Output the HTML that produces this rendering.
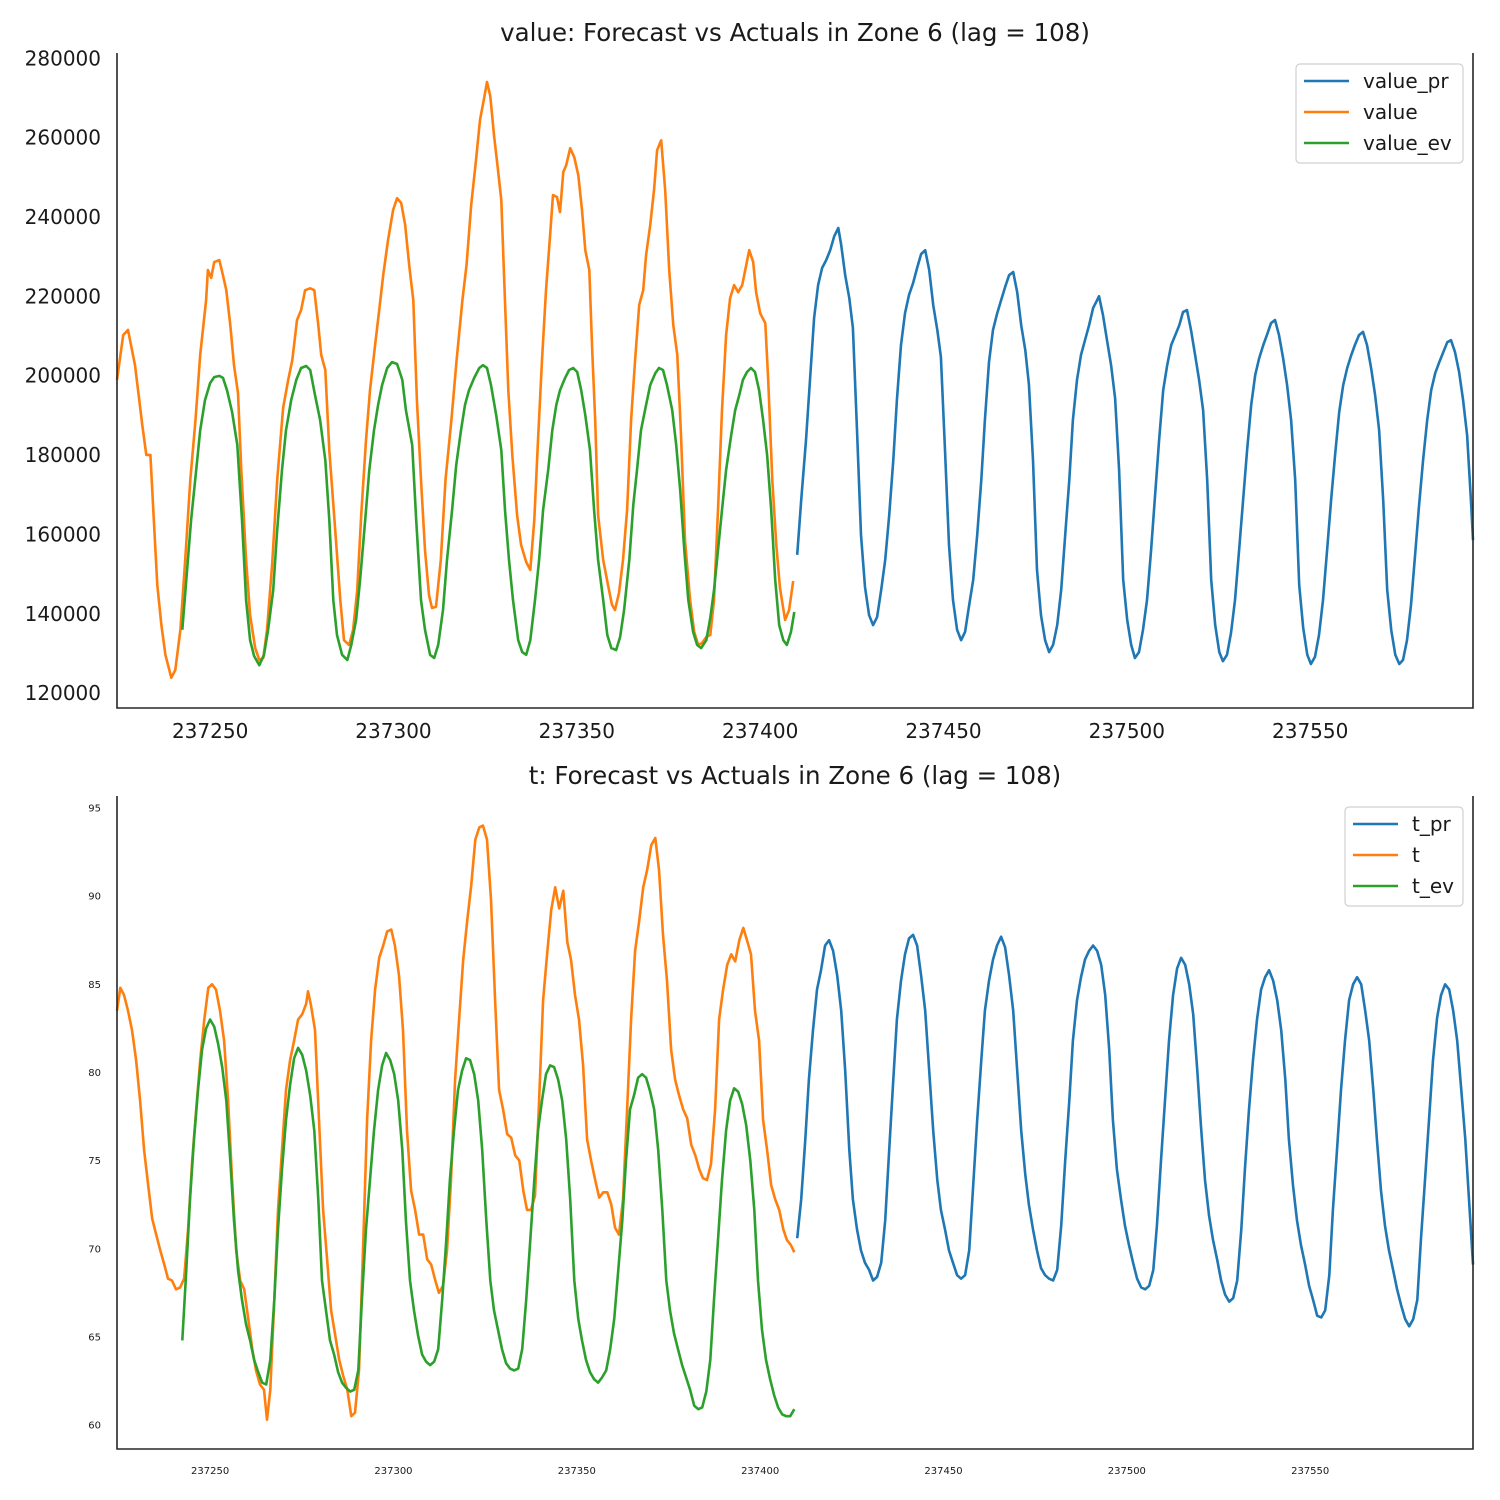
<!DOCTYPE html>
<html><head><meta charset="utf-8"><style>
html,body{margin:0;padding:0;background:#fff;}
svg{display:block;font-family:"DejaVu Sans","Liberation Sans",sans-serif;}
</style></head><body>
<svg id="chart" width="1500" height="1500" viewBox="0 0 1500 1500" xmlns="http://www.w3.org/2000/svg">
<rect width="1500" height="1500" fill="#fff"/>
<g id="top"></g>
<g id="bot"></g>
</svg>
<script>
const X0 = 237000;
const xTicks = [250, 300, 350, 400, 450, 500, 550];
const xTickLabels = ["237250","237300","237350","237400","237450","237500","237550"];
const valueTicks = [120,140,160,180,200,220,240,260,280];
const valueTickLabels = ["120000","140000","160000","180000","200000","220000","240000","260000","280000"];
const tTicks = [60,65,70,75,80,85,90,95];
const tTickLabels = ["60","65","70","75","80","85","90","95"];

// value (thousands) series: [x offset from 237000, value/1000]
const valuePr = [[410.1,154.8],[411.2,168.6],[412.5,183.7],[413.6,198.9],[414.7,214.5],[415.8,222.8],[416.9,227.1],[418,229.1],[419.1,231.6],[420.2,235.1],[421.3,237.2],[422.1,232.9],[423.2,225.3],[424.3,219.5],[425.3,212],[426.4,186.3],[427.5,159.8],[428.6,146.7],[429.7,139.6],[430.8,137.1],[431.9,139.1],[433,146],[434.1,153.5],[435.2,164.8],[436.3,178.7],[437.3,193.8],[438.4,207.7],[439.5,215.7],[440.6,220.3],[441.7,223.3],[442.8,227.1],[443.9,230.6],[445,231.6],[446.1,226.6],[447.2,217.8],[448.3,211.5],[449.3,204.7],[450.4,181.2],[451.5,157.3],[452.6,143.4],[453.7,135.9],[454.8,133.3],[455.9,135.4],[457,142.2],[458.1,148.5],[459.2,159.8],[460.3,173.7],[461.3,188.8],[462.4,203.4],[463.5,211.5],[464.6,215.5],[465.7,219],[466.8,222.3],[467.9,225.3],[469,226.1],[470.1,221],[471.2,212.7],[472.3,206.4],[473.3,197.8],[474.4,178.7],[475.5,151],[476.6,139.6],[477.7,133.3],[478.8,130.3],[479.9,132.1],[481,137.1],[482.1,146],[483.2,159.8],[484.3,173.7],[485.3,188.8],[486.4,198.9],[487.5,205.2],[488.6,208.9],[489.7,212.7],[490.8,217],[491.9,219],[492.4,220],[493.5,215.2],[494.6,208.9],[495.7,202.6],[496.8,194.3],[497.9,176.2],[499,148.5],[500.1,138.4],[501.2,132.1],[502.2,128.8],[503.3,130.3],[504.4,135.9],[505.5,143.4],[506.6,156],[507.7,169.9],[508.8,183.7],[509.9,196.3],[511,202.6],[512.1,207.7],[513.2,210.2],[514.3,212.7],[515.3,216],[516.4,216.5],[517.5,211.5],[518.6,205.2],[519.7,198.9],[520.8,191.3],[521.9,173.7],[523,148.5],[524.1,137.1],[525.2,130.3],[526.2,128],[527.3,129.6],[528.4,135.1],[529.5,143.4],[530.6,156],[531.7,168.6],[532.8,181.2],[533.9,192.6],[535,200.1],[536.1,204.4],[537.2,207.7],[538.2,210.2],[539.3,213.2],[540.4,214],[541.5,210.2],[542.6,204.4],[543.7,197.6],[544.8,188.8],[545.9,173.7],[547,147.2],[548.1,136.4],[549.2,129.6],[550.2,127.3],[551.3,129.1],[552.4,134.6],[553.5,143.4],[554.6,156],[555.7,168.6],[556.8,180],[557.9,190.8],[559,197.6],[560.1,201.9],[561.2,205.2],[562.2,207.7],[563.3,210.2],[564.4,211],[565.5,207.7],[566.6,201.9],[567.7,195.1],[568.8,186.3],[569.9,168.6],[571,146],[572.1,135.9],[573.2,129.6],[574.3,127.3],[575.3,128.3],[576.4,133.3],[577.5,142.2],[578.6,154.8],[579.7,167.4],[580.8,178.7],[581.9,188.8],[583,196.3],[584.1,200.6],[585.2,203.4],[586.3,205.9],[587.4,208.4],[588.4,208.9],[589.5,205.9],[590.6,200.9],[591.7,193.8],[592.8,185],[593.9,167.4],[594.4,158.5]];
const valueAct = [[224.6,198.9],[226.3,210.2],[227.6,211.5],[229.5,202.6],[231.5,187.5],[232.6,180],[233.7,180],[234.5,166.1],[235.6,147.2],[236.7,137.1],[237.8,129.6],[239.4,123.8],[240.5,125.8],[241.9,135.9],[243.2,153.5],[244.6,173.7],[246,188.8],[247.3,205.2],[248.9,219],[249.4,226.6],[250.3,224.6],[251.1,228.6],[252.5,229.1],[253.3,226.1],[254.4,221.5],[255.5,212.7],[256.5,202.6],[257.6,195.6],[258.5,176.2],[259.8,153.5],[260.9,139.6],[262.3,131.3],[263.4,128.3],[264.5,128.8],[265.5,135.9],[266.9,152.2],[268.3,173.7],[269.9,191.8],[271.3,198.9],[272.4,203.9],[273.7,214],[274.8,216.5],[275.9,221.5],[277.3,222],[278.4,221.5],[279.5,212.7],[280.3,205.2],[281.4,201.4],[282.5,181.2],[284.1,161.1],[285.5,143.4],[286.5,133.3],[287.9,132.1],[289,135.9],[290.1,145.9],[291.2,164.8],[292.5,183.7],[293.6,196.3],[295,207.7],[296.1,216.5],[297.2,225.3],[298.5,234.1],[299.9,241.7],[301,244.7],[302.1,243.5],[303.2,237.9],[304.3,227.8],[305.4,219],[306.4,193.8],[307.5,173.7],[308.6,156],[309.7,144.7],[310.5,141.4],[311.6,141.7],[312.9,153.5],[314.2,173.7],[315.8,188.8],[317.2,203.9],[318.8,219],[319.9,227.8],[321.2,243],[322.5,254.3],[323.6,264.4],[324.7,269.9],[325.5,274],[326.4,270.4],[327.4,260.6],[328.5,251.8],[329.4,244.2],[330.2,224.1],[331.3,196.3],[332.4,180],[333.7,164.8],[334.8,157.3],[336.2,153],[337.3,151],[338.4,163.6],[339.4,183.7],[340.5,203.9],[341.6,221.5],[342.7,235.4],[343.5,245.5],[344.6,245],[345.4,241.2],[346.3,251.3],[347.1,253],[348.2,257.3],[349.3,255],[350.4,250.5],[351.4,241.7],[352.3,231.6],[353.4,226.6],[354.2,206.4],[355,188.8],[355.8,164.8],[357.2,153.5],[358.5,147.2],[359.6,142.2],[360.4,140.9],[361.5,145.2],[362.6,153.5],[363.7,166.1],[364.8,188.8],[365.9,203.9],[367,217.8],[368.1,221.5],[368.9,230.4],[370,237.9],[371.1,247.2],[371.9,256.8],[373,259.3],[374.1,246.7],[375.2,226.6],[376.3,212.7],[377.4,205.2],[378.4,185],[379.5,158.5],[380.9,143.4],[382,135.4],[383.1,132.1],[384.2,132.6],[385.3,134.1],[386.4,134.6],[387.4,143.4],[388.5,166.1],[389.6,191.3],[390.7,210.2],[391.8,219.5],[392.9,222.8],[394,221],[395.1,222.8],[396.2,227.8],[397,231.6],[398.1,228.6],[398.9,221],[400,215.7],[401.4,213.2],[402.2,198.9],[403.3,173.7],[404.4,157.3],[405.4,146.4],[406.8,138.4],[407.9,140.9],[409,148.2]];
const valueEv = [[242.4,135.9],[243.5,148.5],[244.8,163.6],[246.2,176.2],[247.3,186.2],[248.6,193.8],[250,198.1],[251.1,199.6],[252.5,199.9],[253.5,199.4],[254.6,196.3],[256,190.8],[257.4,182.5],[258.7,163.6],[259.8,143.4],[260.9,133.3],[262,129.3],[263.4,127],[264.7,129.6],[265.8,135.9],[267.2,145.9],[268.3,161.1],[269.6,176.2],[270.7,186.2],[272.1,193.8],[273.5,198.9],[274.8,201.9],[276.2,202.4],[277.3,201.4],[278.6,195.1],[280,188.8],[281.4,178.7],[282.5,163.6],[283.6,143.4],[284.6,134.6],[286,129.6],[287.4,128.3],[288.5,132.1],[289.8,138.4],[290.9,148.5],[292.3,163.6],[293.4,176.2],[294.7,186.2],[295.8,192.6],[296.9,197.6],[298.3,201.9],[299.6,203.4],[301,202.9],[302.4,198.9],[303.4,191.3],[305.1,182.5],[306.2,163.6],[307.5,143.4],[308.6,135.9],[310,129.6],[311.1,128.8],[312.2,132.1],[313.5,140.9],[314.6,153.5],[316,166.1],[317.1,177.4],[318.4,186.2],[319.5,192.6],[320.6,196.3],[322,199.4],[323.4,201.9],[324.4,202.6],[325.5,201.9],[326.6,197.6],[328,190],[329.4,181.2],[330.4,166.1],[331.5,153.5],[332.6,143.4],[334,133.3],[335.1,130.3],[336.2,129.6],[337.3,133.3],[338.6,143.4],[339.7,153.5],[340.8,166.1],[342.2,176.2],[343.3,186.2],[344.4,192.6],[345.4,196.3],[346.8,199.4],[347.9,201.4],[349,201.9],[350.1,200.9],[351.2,196.3],[352.3,190],[353.6,181.2],[354.7,166.1],[355.8,153.5],[357.2,143.4],[358.3,134.6],[359.4,131.3],[360.7,130.8],[361.8,134.1],[362.9,140.9],[364.3,153.5],[365.4,167.4],[366.4,176.2],[367.5,186.2],[368.9,192.6],[370,197.6],[371.4,200.6],[372.4,201.9],[373.5,201.4],[374.6,197.6],[376,191.3],[377.1,182.5],[378.2,171.1],[379.3,156],[380.4,143.4],[381.7,135.4],[382.8,132.1],[383.9,131.3],[385.3,133.3],[386.4,138.9],[387.4,145.9],[388.5,156],[389.6,166.1],[390.7,176.2],[392.1,185],[393.2,191.3],[394.3,195.1],[395.3,198.9],[396.4,200.9],[397.5,201.9],[398.6,200.9],[399.7,196.3],[400.8,188.8],[401.9,180],[403,166.1],[404.1,148.5],[405.2,137.1],[406.3,133.3],[407.3,132.1],[408.4,135.4],[409.3,140.4]];

const tPr = [[410.1,70.6],[411.2,72.8],[412.3,76.2],[413.3,79.6],[414.4,82.4],[415.5,84.7],[416.6,85.8],[417.7,87.2],[418.8,87.5],[419.9,86.9],[421,85.5],[422.1,83.5],[423.2,80.1],[424.3,75.6],[425.3,72.8],[426.4,71.1],[427.5,69.9],[428.6,69.2],[429.7,68.8],[430.8,68.2],[431.9,68.4],[433,69.2],[434.1,71.6],[435.2,75.6],[436.3,79.6],[437.3,83],[438.4,85.2],[439.5,86.7],[440.6,87.6],[441.7,87.8],[442.8,87.2],[443.9,85.5],[445,83.5],[446.1,80.1],[447.2,76.7],[448.3,73.9],[449.3,72.2],[450.4,71.1],[451.5,69.9],[452.6,69.2],[453.7,68.5],[454.8,68.3],[455.9,68.5],[457,69.9],[458.1,73.6],[459.2,77.3],[460.3,80.7],[461.3,83.5],[462.4,85.2],[463.5,86.4],[464.6,87.2],[465.7,87.7],[466.8,87.1],[467.9,85.5],[469,83.5],[470.1,80.1],[471.2,76.7],[472.3,74.2],[473.3,72.5],[474.4,71.1],[475.5,69.9],[476.6,68.9],[477.7,68.5],[478.8,68.3],[479.9,68.2],[481,68.8],[482.1,71.3],[483.2,75],[484.3,78.4],[485.3,81.8],[486.4,84.1],[487.5,85.4],[488.6,86.4],[489.7,86.9],[490.8,87.2],[491.9,86.9],[493,86.1],[494.1,84.4],[495.2,81.3],[496.2,77.3],[497.3,74.5],[498.4,72.8],[499.5,71.3],[500.6,70.2],[501.7,69.2],[502.8,68.3],[503.9,67.8],[505,67.7],[506.1,67.9],[507.2,68.8],[508.2,71.3],[509.3,75],[510.4,78.4],[511.5,81.8],[512.6,84.4],[513.7,85.9],[514.8,86.5],[515.9,86.1],[517,85],[518.1,83.3],[519.2,80.1],[520.2,77],[521.3,73.9],[522.4,71.9],[523.5,70.5],[524.6,69.4],[525.7,68.2],[526.8,67.4],[527.9,67],[529,67.2],[530.1,68.2],[531.2,71.1],[532.2,74.5],[533.3,77.9],[534.4,80.7],[535.5,83],[536.6,84.7],[537.7,85.4],[538.8,85.8],[539.9,85.2],[541,84.1],[542.1,82.4],[543.2,79.6],[544.2,76.2],[545.3,73.6],[546.4,71.6],[547.5,70.2],[548.6,69.1],[549.7,67.9],[550.8,67.1],[551.9,66.2],[553,66.1],[554.1,66.5],[555.2,68.5],[556.2,72.2],[557.3,75.6],[558.4,79],[559.5,81.8],[560.6,84.1],[561.7,85],[562.8,85.4],[563.9,85],[565,83.5],[566.1,81.8],[567.2,79],[568.2,76.2],[569.3,73.3],[570.4,71.3],[571.5,69.9],[572.6,68.8],[573.7,67.7],[574.8,66.8],[575.9,66],[577,65.6],[578.1,66],[579.2,67.1],[580.2,70.5],[581.3,73.9],[582.4,77.3],[583.5,80.7],[584.6,83.1],[585.7,84.4],[586.8,85],[587.9,84.7],[589,83.5],[590.1,81.8],[591.2,79],[592.3,76.2],[593.3,72.8],[594.4,69.1]];
const tAct = [[224.6,83.5],[225.5,84.8],[226.5,84.4],[227.6,83.5],[228.7,82.4],[229.8,80.7],[230.9,78.4],[232,75.6],[233.1,73.6],[234.2,71.7],[235.3,70.8],[236.4,69.9],[237.5,69.1],[238.5,68.3],[239.6,68.2],[240.7,67.7],[241.8,67.8],[242.9,68.3],[244,71.1],[245.1,75],[246.2,77.9],[247.3,80.7],[248.4,83],[249.5,84.8],[250.5,85],[251.6,84.7],[252.7,83.5],[253.8,81.8],[254.9,78.4],[256,73.9],[257.1,69.9],[258.2,68.2],[259.3,67.7],[260.4,66],[261.5,64.3],[262.5,63.1],[263.6,62.3],[264.7,62],[265.5,60.3],[266.4,62],[267.5,67.1],[268.5,72.2],[269.6,75.6],[270.7,79],[271.8,80.7],[272.9,81.8],[274,83],[275.1,83.3],[276.2,83.9],[276.7,84.6],[277.5,83.8],[278.6,82.4],[279.7,77.3],[280.8,72.2],[281.9,69.4],[283,66.5],[284.1,65.1],[285.2,63.7],[286.3,62.8],[287.4,62],[288.5,60.5],[289.5,60.7],[290.6,63.1],[291.7,69.9],[292.8,77.3],[293.9,81.8],[295,84.7],[296.1,86.5],[297.2,87.2],[298.3,88],[299.4,88.1],[300.4,87.2],[301.5,85.5],[302.6,82.4],[303.7,76.7],[304.8,73.3],[305.9,72.2],[307,70.8],[308.1,70.8],[309.2,69.4],[310.3,69.1],[311.4,68.2],[312.4,67.5],[313.5,67.9],[314.6,69.9],[315.7,73.9],[316.8,79.6],[317.9,83],[319,86.4],[320.1,88.6],[321.2,90.6],[322.3,93.2],[323.4,93.9],[324.4,94],[325.5,93.2],[326.6,89.8],[327.7,84.1],[328.8,79],[329.9,77.9],[331,76.5],[332.1,76.3],[333.2,75.3],[334.3,75],[335.4,73.3],[336.4,72.2],[337.5,72.2],[338.6,73],[339.7,78.4],[340.8,84.1],[341.9,86.7],[343,89.2],[344.1,90.5],[345.2,89.3],[346.3,90.3],[347.4,87.4],[348.4,86.4],[349.5,84.4],[350.6,83],[351.7,80.4],[352.8,76.2],[353.9,75],[355,73.9],[356.1,72.9],[357.2,73.2],[358.3,73.2],[359.4,72.5],[360.4,71.2],[361.5,70.8],[362.6,72.8],[363.7,77.9],[364.8,83],[365.9,86.9],[367,88.6],[368.1,90.5],[369.2,91.5],[370.3,92.9],[371.4,93.3],[372.4,91.5],[373.5,87.8],[374.6,85.2],[375.7,81.3],[376.8,79.6],[377.9,78.7],[379,77.9],[380.1,77.4],[381.2,75.9],[382.3,75.3],[383.4,74.5],[384.4,74],[385.5,73.9],[386.6,74.8],[387.7,77.9],[388.8,83],[389.9,84.7],[391,86.1],[392.1,86.7],[393.2,86.3],[394.3,87.5],[395.4,88.2],[396.4,87.5],[397.5,86.7],[398.6,83.5],[399.7,81.8],[400.8,77.3],[401.9,75.6],[403,73.6],[404.1,72.8],[405.2,72.2],[406.3,71.1],[407.3,70.5],[408.4,70.2],[409.3,69.8]];
const tEv = [[242.4,64.8],[243.5,68.8],[244.5,72.8],[245.6,76.2],[246.7,79],[247.8,81.3],[248.9,82.5],[250,83],[251.1,82.6],[252.2,81.6],[253.3,80.3],[254.4,78.4],[255.5,75],[256.5,71.6],[257.6,68.8],[258.7,67.1],[259.8,65.7],[260.9,64.8],[262,63.7],[263.1,63],[264.2,62.4],[265.3,62.3],[266.4,63.7],[267.5,67.1],[268.5,71.1],[269.6,74.5],[270.7,77.3],[271.8,79.3],[272.9,80.8],[274,81.4],[275.1,81],[276.2,80.1],[277.3,78.7],[278.4,76.7],[279.5,72.8],[280.5,68.2],[281.6,66.5],[282.7,64.8],[283.8,64],[284.9,63],[286,62.4],[287.1,62.1],[288.2,61.9],[289.3,62],[290.4,63.1],[291.4,67.1],[292.5,71.1],[293.6,73.9],[294.7,76.7],[295.8,79],[296.9,80.4],[298,81.1],[299.1,80.7],[300.2,79.9],[301.3,78.4],[302.4,75.6],[303.4,71.6],[304.5,68.2],[305.6,66.5],[306.7,65.1],[307.8,64],[308.9,63.6],[310,63.4],[311.1,63.6],[312.2,64.3],[313.3,67.1],[314.4,70.5],[315.4,73.9],[316.5,76.7],[317.6,79],[318.7,80.1],[319.8,80.8],[320.9,80.7],[322,79.9],[323.1,78.4],[324.2,75.6],[325.3,71.6],[326.4,68.2],[327.4,66.5],[328.5,65.4],[329.6,64.3],[330.7,63.5],[331.8,63.2],[332.9,63.1],[334,63.2],[335.1,64.3],[336.2,67.1],[337.3,70.5],[338.4,73.9],[339.4,76.7],[340.5,78.4],[341.6,79.9],[342.7,80.4],[343.8,80.3],[344.9,79.6],[346,78.4],[347.1,76.2],[348.2,72.8],[349.3,68.2],[350.4,66],[351.4,64.8],[352.5,63.7],[353.6,63],[354.7,62.6],[355.8,62.4],[356.9,62.7],[358,63.1],[359.1,64.3],[360.2,66],[361.3,68.8],[362.4,71.6],[363.4,75],[364.5,77.9],[365.6,78.7],[366.7,79.7],[367.8,79.9],[368.9,79.7],[370,78.9],[371.1,77.9],[372.2,75.6],[373.3,72.2],[374.4,68.2],[375.4,66.5],[376.5,65.2],[377.6,64.3],[378.7,63.4],[379.8,62.7],[380.9,62],[382,61.1],[383.1,60.9],[384.2,61],[385.3,61.9],[386.4,63.7],[387.4,67.1],[388.5,70.5],[389.6,73.9],[390.7,76.7],[391.8,78.4],[392.9,79.1],[394,78.9],[395.1,78.2],[396.2,77],[397.3,75],[398.4,72.2],[399.4,68.2],[400.5,65.4],[401.6,63.7],[402.7,62.6],[403.8,61.7],[404.9,61],[406,60.6],[407.1,60.5],[408.2,60.5],[409.3,60.9]];

const NS = "http://www.w3.org/2000/svg";
function mk(tag, attrs, parent){ const e=document.createElementNS(NS,tag); for(const k in attrs) e.setAttribute(k,attrs[k]); parent.appendChild(e); return e; }

function panel(g, cfg){
  const L=117, R=1473, T=cfg.top, B=cfg.bottom;
  const sx = x => L + (x + X0 - cfg.xmin)/(cfg.xmax-cfg.xmin)*(R-L);
  const sy = v => B - (v - cfg.ymin)/(cfg.ymax-cfg.ymin)*(B-T);
  const title = mk('text',{x:795,y:cfg.titleY,'text-anchor':'middle','font-size':24.5,fill:'#1a1a1a'},g);
  title.textContent = cfg.title;
  
  
  cfg.yTicks.forEach((v,i)=>{
    const t = mk('text',{x:101,y:sy(v)+cfg.yFont*0.36,'text-anchor':'end','font-size':cfg.yFont,fill:'#1a1a1a'},g);
    t.textContent = cfg.yLabels[i];
    
    
  });
  xTicks.forEach((v,i)=>{
    const t = mk('text',{x:sx(v),y:cfg.xLabelY,'text-anchor':'middle','font-size':cfg.xFont,fill:'#1a1a1a'},g);
    t.textContent = xTickLabels[i];
    
    
  });
  const colors=['#1f77b4','#ff7f0e','#2ca02c'];
  cfg.series.forEach((s,i)=>{
    const p = mk('polyline',{points:s.data.map(d=>sx(d[0]).toFixed(1)+','+sy(d[1]).toFixed(1)).join(' '),fill:'none',stroke:colors[i],'stroke-width':2.6,'stroke-linejoin':'round'},g);
    
    
  });
  const sp = mk('path',{d:`M${L},${T} V${B} H${R} V${T}`,fill:'none',stroke:'#262626','stroke-width':1.6},g);
  
  
  const lg = mk('g',{},g);
  
  
  mk('rect',{x:cfg.legX,y:cfg.legY,width:1463-cfg.legX,height:99,rx:4,fill:'#fff',stroke:'#d0d0d0','stroke-width':1.2},lg);
  cfg.series.forEach((s,i)=>{
    const yy = cfg.legY+17+i*31;
    const e = mk('g',{},lg);
    
    
    mk('line',{x1:cfg.legX+8,x2:cfg.legX+53,y1:yy,y2:yy,stroke:colors[i],'stroke-width':2.6},e);
    const t = mk('text',{x:cfg.legX+67,y:yy+7,'font-size':20,fill:'#1a1a1a'},e);
    t.textContent = s.name;
  });
}

panel(document.getElementById('top'),{
  top:53,bottom:708,xmin:237224.6,xmax:237594.4,ymin:116.2,ymax:281.3,
  title:'value: Forecast vs Actuals in Zone 6 (lag = 108)',titleY:41,
  yTicks:valueTicks,yLabels:valueTickLabels,yFont:20,xFont:20,xLabelY:738,
  legX:1296,legY:64,
  series:[{name:'value_pr',data:valuePr},{name:'value',data:valueAct},{name:'value_ev',data:valueEv}]
});
panel(document.getElementById('bot'),{
  top:796,bottom:1449,xmin:237224.6,xmax:237594.4,ymin:58.64,ymax:95.68,
  title:'t: Forecast vs Actuals in Zone 6 (lag = 108)',titleY:784,
  yTicks:tTicks,yLabels:tTickLabels,yFont:10,xFont:10,xLabelY:1474,
  legX:1345,legY:807,
  series:[{name:'t_pr',data:tPr},{name:'t',data:tAct},{name:'t_ev',data:tEv}]
});
</script>
</body></html>
